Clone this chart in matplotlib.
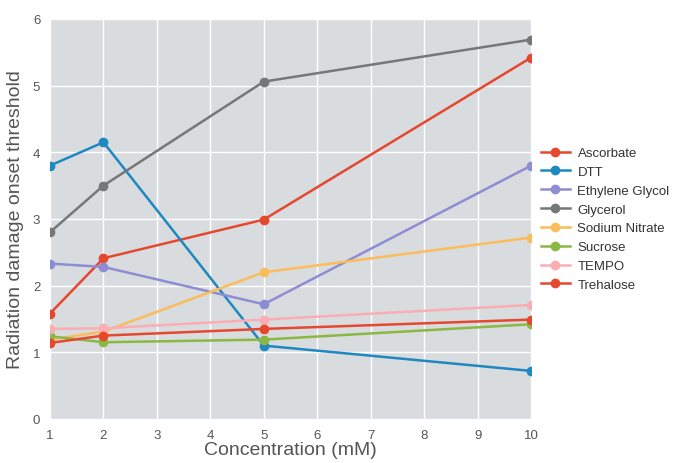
import matplotlib
matplotlib.use("Agg")
import matplotlib.pyplot as plt

# Concentrations (mM) and onset thresholds
conc = [1, 2, 5, 10]
ascorbate = [1.58, 2.41, 2.99, 5.42]
dtt = [3.80, 4.15, 1.10, 0.72]
ethylene_glycol = [2.33, 2.28, 1.72, 3.80]
glycerol = [2.80, 3.50, 5.06, 5.69]
sodium_nitrate = [1.19, 1.31, 2.20, 2.72]
sucrose = [1.24, 1.15, 1.19, 1.42]
tempo = [1.35, 1.36, 1.49, 1.71]
trehalose = [1.14, 1.25, 1.35, 1.49]

names = ["Ascorbate", "DTT", "Ethylene Glycol", "Glycerol",
         "Sodium Nitrate", "Sucrose", "TEMPO", "Trehalose"]
series = [ascorbate, dtt, ethylene_glycol, glycerol,
          sodium_nitrate, sucrose, tempo, trehalose]
colors = ["#E5472F", "#1E88C0", "#8E8CD3", "#757779",
          "#FBBC5A", "#8AB843", "#FBADB4", "#E5472F"]

plt.rcParams['font.family'] = ['Liberation Sans', 'DejaVu Sans']

fig = plt.figure(figsize=(6.8, 4.64), dpi=100)
ax = fig.add_axes([0.0735, 0.095, 0.7075, 0.862])
ax.set_facecolor('#d9dcdf')

for name, vals, c in zip(names, series, colors):
    ax.plot(conc, vals, '-o', color=c, lw=1.8, ms=6, label=name, zorder=3)

ax.set_xlim(1, 10)
ax.set_ylim(0, 6)
ax.set_xticks(range(1, 11))
ax.set_yticks(range(0, 7))
ax.grid(True, color='white', lw=1.0)
ax.set_axisbelow(True)
for s in ax.spines.values():
    s.set_visible(False)
ax.tick_params(length=0, labelsize=9.5, labelcolor='#555555')
ax.tick_params(axis='x', pad=7)
ax.tick_params(axis='y', pad=7)

ax.set_xlabel("Concentration (mM)", fontsize=14, color='#555555', labelpad=0)
ax.set_ylabel("Radiation damage onset threshold", fontsize=14, color='#555555', labelpad=6)

leg = ax.legend(loc='center left', bbox_to_anchor=(0.995, 0.5), frameon=False,
                fontsize=9.5, handlelength=2.2, handletextpad=0.6, labelspacing=0.5)
for t in leg.get_texts():
    t.set_color('#333333')

fig.savefig("out.png", dpi=100)
